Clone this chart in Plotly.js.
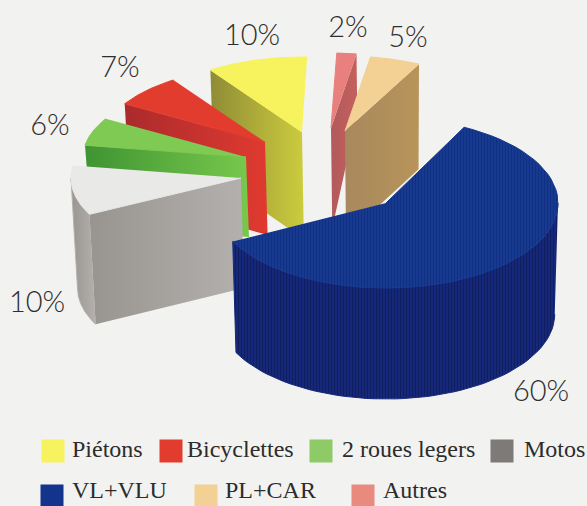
<!DOCTYPE html>
<html><head><meta charset="utf-8">
<script src="https://cdn.plot.ly/plotly-3.0.1.min.js"></script>
<style>html,body{margin:0;padding:0;background:#f2f2f0;overflow:hidden}</style>
</head><body><div id="c" style="width:587px;height:506px"></div>
<script>
// Data, in the clockwise order of the pie starting at VL+VLU
const categories = ['VL+VLU','Motos','2 roues legers','Bicyclettes','Piétons','Autres','PL+CAR'];
const shares     = [60,10,6,7,10,2,5];

// Legend order as printed
const legendOrder = ['Piétons','Bicyclettes','2 roues legers','Motos','VL+VLU','PL+CAR','Autres'];

// Geometry / style
const START = 27, PERSP = 0.02, VX = 395;
const style = {
 'VL+VLU':        {ax:386,ay:203,rx:172,ry:85,h:111,top:'#17398f',w0:'#15246f',w1:'#16287a',sw:'#14338c',face:null,lab:[541,394],
                   tex:{shape:'|',fg:'#10307f',topFg:'#10307f'}},
 'Motos':         {ax:241,ay:178,rx:170,ry:80,h:110,top:'#e9e9e8',w0:'#98948f',w1:'#b4b0ae',sw:'#7d7a78',face:0,lab:[37,305]},
 '2 roues legers':{ax:246,ay:157,rx:163,ry:75,h:80, top:'#7fca52',w0:'#3f9432',w1:'#78c84c',sw:'#8ecb66',face:0,lab:[50,128]},
 'Bicyclettes':   {ax:265,ay:142,rx:163,ry:75,h:93, top:'#e23c2f',w0:'#ab2a2c',w1:'#e03a30',sw:'#e23c2f',face:0,lab:[120,70]},
 'Piétons':       {ax:302,ay:132,rx:163,ry:75,h:107,top:'#f7f35e',w0:'#8f8c36',w1:'#cccc3e',sw:'#f7f35e',face:0,lab:[252,38]},
 'Autres':        {ax:331,ay:128,rx:163,ry:75,h:100,hr:60,top:'#e8807e',w0:'#b25a5c',w1:'#c4605c',sw:'#e88a7e',face:1,lab:[348,30]},
 'PL+CAR':        {ax:345,ay:131,rx:163,ry:75,h:105,top:'#f3d093',w0:'#a8895e',w1:'#b8945a',sw:'#f3d093',face:1,lab:[408,40]}
};
// swatch x, swatch y, text x, text y
const legendPos = {
 'Piétons':[53,451,72,451],'Bicyclettes':[171,451,187,451],'2 roues legers':[321,451,342,451],'Motos':[502,451,524,451],
 'VL+VLU':[52,496,72,492],'PL+CAR':[206,496,225,492],'Autres':[363,496,383,492]
};

const rad = d => d*Math.PI/180;
const total = shares.reduce((a,b)=>a+b,0);
const rim = (s,t) => [s.ax + s.rx*Math.sin(rad(t)), s.ay - s.ry*Math.cos(rad(t))];
const drop = (p,h) => [p[0] + (VX-p[0])*PERSP, p[1]+h];
const poly = (pts,extra) => Object.assign({
  x:pts.map(p=>p[0]), y:pts.map(p=>p[1]), mode:'lines', fill:'toself',
  line:{width:0}, hoverinfo:'skip', showlegend:false, type:'scatter'}, extra);
const grad = s => s.tex
  ? {fillcolor:s.w1, fillpattern:{shape:s.tex.shape,size:3,solidity:0.35,fgcolor:'#101d5e',bgcolor:s.w1,fillmode:'replace'}}
  : {fillgradient:{type:'horizontal',colorscale:[[0,s.w0],[1,s.w1]]}};

let cursor = START;
const spans = {};
categories.forEach((c,i)=>{ const d = shares[i]/total*360; spans[c]=[cursor,cursor+d]; cursor+=d; });

// back to front
const drawOrder = ['Autres','PL+CAR','Piétons','Bicyclettes','2 roues legers','Motos','VL+VLU'];
const traces = [];
drawOrder.forEach(c=>{
  const s = style[c], [t0,t1] = spans[c];
  const apex = [s.ax,s.ay];
  const hr = s.hr===undefined ? s.h : s.hr;
  // outer curved wall: only the part facing the viewer
  const a0 = Math.max(t0,90), a1 = Math.min(t1,270);
  if (a1>a0){
    const topArc=[], botArc=[];
    for(let t=a0;t<=a1+1e-6;t+=(a1-a0)/60){ const p=rim(s,t); topArc.push(p); botArc.push(drop(p,hr)); }
    traces.push(poly(topArc.concat(botArc.reverse()), Object.assign({name:c+' wall'},grad(s),{line:{width:1,color:s.w1}})));
  }
  // straight cut face
  if (s.face!==null){
    const r = rim(s, s.face===0 ? t0 : t1);
    traces.push(poly([apex,r,drop(r,hr),drop(apex,s.h)], Object.assign({name:c+' face'},grad(s))));
  }
  // top face
  const pts=[apex];
  for(let t=t0;t<=t1+1e-6;t+=(t1-t0)/60) pts.push(rim(s,t));
  const topStyle = {name:c,fillcolor:s.top,line:{width:1,color:s.top}};
  if (s.tex) topStyle.fillpattern = {shape:s.tex.shape,size:3,solidity:0.3,fgcolor:s.tex.topFg,bgcolor:s.top,fillmode:'replace'};
  traces.push(poly(pts,topStyle));
});

// value labels
traces.push({type:'scatter',mode:'text',hoverinfo:'skip',showlegend:false,
  x:categories.map(c=>style[c].lab[0]), y:categories.map(c=>style[c].lab[1]),
  text:shares.map(v=>v+'%'), textposition:'middle center',
  textfont:{family:'Lato, "Open Sans", sans-serif',size:29,color:'#2e2e2e',weight:300}});

// legend
traces.push({type:'scatter',mode:'markers',hoverinfo:'skip',showlegend:false,
  x:legendOrder.map(c=>legendPos[c][0]), y:legendOrder.map(c=>legendPos[c][1]),
  marker:{symbol:'square',size:23,color:legendOrder.map(c=>style[c].sw),line:{width:0}}});
traces.push({type:'scatter',mode:'text',hoverinfo:'skip',showlegend:false,
  x:legendOrder.map(c=>legendPos[c][2]), y:legendOrder.map(c=>legendPos[c][3]),
  text:legendOrder, textposition:'middle right',
  textfont:{family:'"Liberation Serif", serif',size:24,color:'#2c2c2c'}});

const hidden = {visible:false,fixedrange:true};
Plotly.newPlot('c',traces,{
  width:587,height:506,margin:{l:0,r:0,t:0,b:0},
  paper_bgcolor:'#f2f2f0',plot_bgcolor:'#f2f2f0',showlegend:false,
  xaxis:Object.assign({range:[0,587]},hidden),
  yaxis:Object.assign({range:[506,0]},hidden)
},{displayModeBar:false,staticPlot:true});
</script></body></html>
